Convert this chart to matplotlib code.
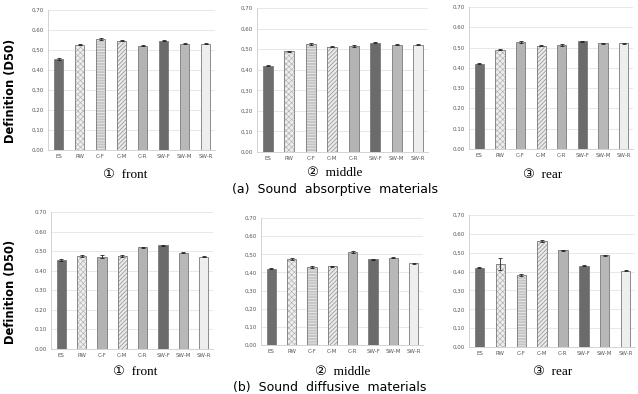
import matplotlib
matplotlib.use('Agg')
import matplotlib.pyplot as plt

plt.rcParams['hatch.linewidth'] = 0.5

categories = ['ES', 'RW', 'C-F', 'C-M', 'C-R', 'SW-F', 'SW-M', 'SW-R']
yticks = [0.0, 0.1, 0.2, 0.3, 0.4, 0.5, 0.6, 0.7]

# (a) sound absorptive materials
abs_front = [0.455, 0.527, 0.555, 0.546, 0.521, 0.546, 0.532, 0.532]
abs_front_err = [0.004, 0.004, 0.005, 0.003, 0.002, 0.003, 0.002, 0.002]
abs_middle = [0.420, 0.490, 0.525, 0.511, 0.515, 0.532, 0.521, 0.521]
abs_middle_err = [0.002, 0.002, 0.005, 0.002, 0.005, 0.002, 0.002, 0.002]
abs_rear = [0.420, 0.490, 0.526, 0.509, 0.514, 0.530, 0.521, 0.521]
abs_rear_err = [0.002, 0.002, 0.004, 0.002, 0.005, 0.002, 0.002, 0.002]

# (b) sound diffusive materials
dif_front = [0.456, 0.475, 0.471, 0.475, 0.519, 0.529, 0.493, 0.471]
dif_front_err = [0.005, 0.004, 0.008, 0.004, 0.002, 0.002, 0.004, 0.002]
dif_middle = [0.420, 0.474, 0.430, 0.433, 0.512, 0.473, 0.482, 0.451]
dif_middle_err = [0.002, 0.004, 0.006, 0.003, 0.004, 0.003, 0.004, 0.002]
dif_rear = [0.421, 0.440, 0.383, 0.563, 0.513, 0.432, 0.486, 0.404]
dif_rear_err = [0.002, 0.030, 0.006, 0.004, 0.003, 0.004, 0.004, 0.003]

# bar styles: facecolor, hatch, hatch colour
styles_cf_lines = [('#6e6e6e', None, None), ('#eeeeee', 'xxxxxx', '#b5b5b5'),
                   ('#c4c4c4', '------', '#f0f0f0'), ('#eaeaea', '////////', '#8e8e8e'),
                   ('#b3b3b3', None, None), ('#6b6b6b', None, None),
                   ('#b8b8b8', None, None), ('#eeeeee', None, None)]
styles_cf_plain = [('#6e6e6e', None, None), ('#eeeeee', 'xxxxxx', '#b5b5b5'),
                   ('#b3b3b3', None, None), ('#eaeaea', '////////', '#8e8e8e'),
                   ('#b3b3b3', None, None), ('#6b6b6b', None, None),
                   ('#b8b8b8', None, None), ('#eeeeee', None, None)]

W, H = 638, 394
fig = plt.figure(figsize=(W / 100, H / 100), dpi=100)


def px_axes(x0, y0, x1, y1):
    return fig.add_axes([x0 / W, 1 - y1 / H, (x1 - x0) / W, (y1 - y0) / H])


def panel(box, vals, errs, styles, comma):
    ax = px_axes(*box)
    for i, (v, e) in enumerate(zip(vals, errs)):
        fc, hatch, hc = styles[i]
        if hatch:
            ax.bar(i, v, width=0.45, color=fc, edgecolor=hc, linewidth=0,
                   hatch=hatch, zorder=3)
            ax.bar(i, v, width=0.45, fill=False, edgecolor='#7a7a7a',
                   linewidth=0.6, zorder=3)
        else:
            ax.bar(i, v, width=0.45, color=fc, edgecolor='#7a7a7a',
                   linewidth=0.6, zorder=3)
        ax.errorbar(i, v, yerr=e, color='#222222', elinewidth=0.6, capsize=1.2,
                    capthick=0.6, zorder=4)
    ax.set_xlim(-0.5, 7.45)
    ax.set_ylim(0, 0.7)
    ax.set_yticks(yticks)
    if comma:
        ax.set_yticklabels([('%.2f' % t).replace('.', ',') for t in yticks])
    else:
        ax.set_yticklabels(['%.2f' % t for t in yticks])
    ax.set_xticks(range(len(categories)))
    ax.set_xticklabels(categories)
    ax.tick_params(length=0, labelsize=4, colors='#555555', pad=3)
    ax.grid(axis='y', color='#e4e4e4', linewidth=0.6, zorder=0)
    for s in ['top', 'right']:
        ax.spines[s].set_visible(False)
    for s in ['left', 'bottom']:
        ax.spines[s].set_color('#cccccc')
        ax.spines[s].set_linewidth(0.6)
    return ax


panel((48, 10, 215, 150), abs_front, abs_front_err, styles_cf_lines, True)
panel((257, 8, 428, 152), abs_middle, abs_middle_err, styles_cf_lines, True)
panel((469, 7, 633, 149), abs_rear, abs_rear_err, styles_cf_plain, False)
panel((51, 212, 213, 349), dif_front, dif_front_err, styles_cf_plain, False)
panel((261, 218, 423, 345), dif_middle, dif_middle_err, styles_cf_lines, True)
panel((469, 215, 635, 347), dif_rear, dif_rear_err, styles_cf_lines, True)

serif = ['Liberation Serif', 'DejaVu Serif', 'DejaVu Sans']


def txt(x, y, s, **kw):
    fig.text(x / W, 1 - y / H, s, ha='center', va='center', **kw)


txt(125, 175, '①  front', fontsize=9.5, family=serif)
txt(335, 173, '②  middle', fontsize=9.5, family=serif)
txt(543, 175, '③  rear', fontsize=9.5, family=serif)
txt(335, 190, '(a)  Sound  absorptive  materials', fontsize=9, family='DejaVu Sans')
txt(135, 372, '①  front', fontsize=9.5, family=serif)
txt(343, 372, '②  middle', fontsize=9.5, family=serif)
txt(553, 372, '③  rear', fontsize=9.5, family=serif)
txt(330, 387, '(b)  Sound  diffusive  materials', fontsize=9, family='DejaVu Sans')

txt(11, 91, 'Definition (D50)', fontsize=8.3, fontweight='bold', rotation=90,
    family='DejaVu Sans')
txt(11, 292, 'Definition (D50)', fontsize=8.3, fontweight='bold', rotation=90,
    family='DejaVu Sans')

fig.savefig('out.png', dpi=100)
